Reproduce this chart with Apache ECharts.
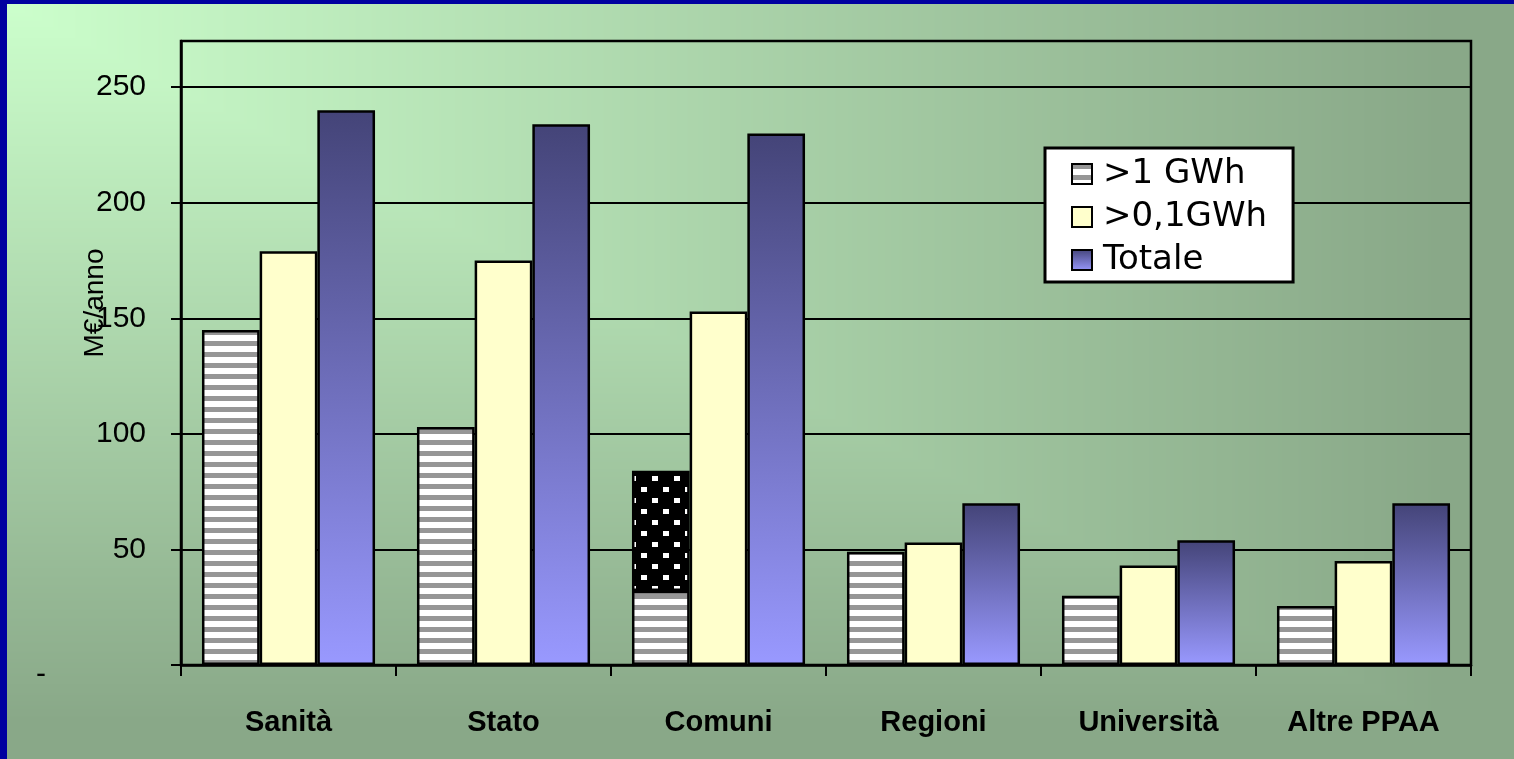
<!DOCTYPE html>
<html>
<head>
<meta charset="utf-8">
<script src="https://cdn.jsdelivr.net/npm/echarts@6/dist/echarts.min.js"></script>
<style>
  html, body { margin: 0; padding: 0; width: 1514px; height: 759px; overflow: hidden; }
  #bg { position: absolute; left: 0; top: 0; width: 1514px; height: 759px; }
  #edgeL { position: absolute; left: 0; top: 0; width: 7px; height: 759px; background: #0000a0; }
  #edgeT { position: absolute; left: 0; top: 0; width: 1514px; height: 4px; background: #0000a0; }
  #chart { position: absolute; left: 0; top: 0; width: 1514px; height: 759px; }
</style>
</head>
<body>
<canvas id="bg"></canvas>
<div id="edgeL"></div>
<div id="edgeT"></div>
<div id="chart"></div>
<script>
// ---- data ----
const categories = ['Sanità', 'Stato', 'Comuni', 'Regioni', 'Università', 'Altre PPAA'];
const gwh1 = [145, 103, 32, 49, 30, 25.5];
const gwh1Extra = [null, null, 52, null, null, null];
const gwh01 = [179, 175, 153, 53, 43, 45];
const totale = [240, 234, 230, 70, 54, 70];
const yTicks = [0, 50, 100, 150, 200, 250];
const seriesNames = ['>1 GWh', '>0,1GWh', 'Totale'];

// ---- background (corner gradient) ----
(function () {
  const c = document.getElementById('bg');
  const W = 1514, H = 759;
  c.width = W; c.height = H;
  const ctx = c.getContext('2d');
  const img = ctx.createImageData(W, H);
  const s = [204, 255, 204], e = [137, 168, 136];
  for (let y = 0; y < H; y++) {
    for (let x = 0; x < W; x++) {
      let t = Math.max(x / W, y / H) / 0.95;
      if (t > 1) t = 1;
      const i = (y * W + x) * 4;
      img.data[i] = s[0] + (e[0] - s[0]) * t;
      img.data[i + 1] = s[1] + (e[1] - s[1]) * t;
      img.data[i + 2] = s[2] + (e[2] - s[2]) * t;
      img.data[i + 3] = 255;
    }
  }
  ctx.putImageData(img, 0, 0);
})();

// ---- patterns ----
function stripePattern() {
  const c = document.createElement('canvas');
  c.width = 8; c.height = 11;
  const g = c.getContext('2d');
  g.fillStyle = '#ffffff'; g.fillRect(0, 0, 8, 11);
  g.fillStyle = '#969696'; g.fillRect(0, 0, 8, 5);
  return c;
}
function dotPattern() {
  const c = document.createElement('canvas');
  c.width = 22; c.height = 22;
  const g = c.getContext('2d');
  g.fillStyle = '#000000'; g.fillRect(0, 0, 22, 22);
  g.fillStyle = '#ffffff';
  g.fillRect(3, 3, 6, 5);
  g.fillRect(14, 14, 6, 5);
  return c;
}
const stripe = { image: stripePattern(), repeat: 'repeat' };
const dots = { image: dotPattern(), repeat: 'repeat' };
const blueGrad = {
  type: 'linear', x: 0, y: 0, x2: 0, y2: 1,
  colorStops: [{ offset: 0, color: '#444478' }, { offset: 1, color: '#9999ff' }]
};

const chart = echarts.init(document.getElementById('chart'), null, { renderer: 'canvas' });
const border = { borderColor: '#000', borderWidth: 2.5 };

chart.setOption({
  backgroundColor: 'transparent',
  animation: false,
  grid: {
    left: 181, right: 43, top: 41, bottom: 94,
    containLabel: false,
    outerBoundsMode: 'none',
    show: true, borderColor: '#000', borderWidth: 2.5, backgroundColor: 'transparent'
  },
  legend: {
    data: seriesNames,
    orient: 'vertical',
    left: 1045, top: 148,
    icon: 'rect',
    backgroundColor: '#ffffff',
    borderColor: '#000', borderWidth: 3,
    padding: [9, 26, 5, 26],
    itemWidth: 20, itemHeight: 20, itemGap: 9,
    textStyle: { fontFamily: 'Verdana, "DejaVu Sans", sans-serif', fontSize: 34, color: '#000', lineHeight: 34, padding: [0, 0, 0, 6] }
  },
  xAxis: {
    type: 'category',
    data: categories,
    boundaryGap: true,
    axisLine: { lineStyle: { color: '#000', width: 2.5 } },
    axisTick: { show: true, length: 11, alignWithLabel: false, lineStyle: { color: '#000', width: 2 } },
    axisLabel: { margin: 43, fontFamily: 'Arial, "Liberation Sans", sans-serif', fontWeight: 'bold', fontSize: 29, color: '#000' },
    splitLine: { show: false }
  },
  yAxis: {
    type: 'value',
    min: 0, max: 270,
    name: 'M€/anno',
    nameLocation: 'middle',
    nameRotate: 90,
    nameGap: 72,
    nameMoveOverlap: false,
    nameTextStyle: { fontFamily: 'Arial, "Liberation Sans", sans-serif', fontSize: 28, color: '#000', padding: [0, 0, 0, 100] },
    axisLine: { show: true, lineStyle: { color: '#000', width: 2.5 } },
    axisTick: { show: true, length: 10, customValues: yTicks, lineStyle: { color: '#000', width: 2 } },
    axisLabel: {
      customValues: yTicks,
      margin: 35,
      fontFamily: 'Arial, "Liberation Sans", sans-serif', fontSize: 30, color: '#000',
      formatter: v => (v === 0 ? '{z|-}' : String(v)),
      rich: { z: { fontSize: 30, color: '#000', padding: [20, 100, 0, 0] } }
    },
    splitLine: { show: true, lineStyle: { color: '#000', width: 2 } }
  },
  series: [
    { name: seriesNames[0], type: 'bar', stack: 'a', data: gwh1, barGap: '0%', barCategoryGap: '19.5%',
      itemStyle: Object.assign({ color: stripe }, border) },
    { name: 'extra', type: 'bar', stack: 'a', data: gwh1Extra,
      itemStyle: Object.assign({ color: dots }, border) },
    { name: seriesNames[1], type: 'bar', data: gwh01,
      itemStyle: Object.assign({ color: '#ffffcc' }, border) },
    { name: seriesNames[2], type: 'bar', data: totale,
      itemStyle: Object.assign({ color: blueGrad }, border) }
  ]
});
</script>
</body>
</html>
